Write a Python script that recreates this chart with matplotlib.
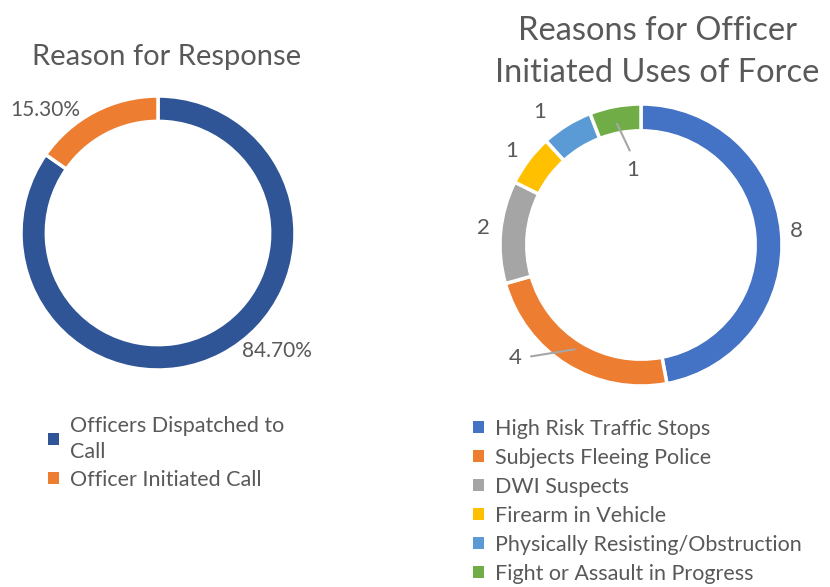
import textwrap
import matplotlib.pyplot as plt

# ─────────── data ───────────
response_labels = ['Officers Dispatched to Call', 'Officer Initiated Call']
response_pct = [84.70, 15.30]
response_colors = ['#2F5597', '#ED7D31']

force_labels = ['High Risk Traffic Stops', 'Subjects Fleeing Police', 'DWI Suspects',
                'Firearm in Vehicle', 'Physically Resisting/Obstruction',
                'Fight or Assault in Progress']
force_counts = [8, 4, 2, 1, 1, 1]
force_colors = ['#4472C4', '#ED7D31', '#A5A5A5', '#FFC000', '#5B9BD5', '#70AD47']

# ─────────── styling ───────────
W, H = 830, 587
TXT = '#595959'
plt.rcParams['font.family'] = ['Lato', 'DejaVu Sans']

# label offsets (in units of outer radius) relative to donut centre
resp_lbl_pos = [(0.87, -0.86), (-0.82, 0.90)]
force_lbl_pos = [(1.10, 0.10), (-0.89, -0.80), (-1.12, 0.12),
                 (-0.92, 0.67), (-0.72, 0.94), (-0.06, 0.53)]
# leader lines for some labels: (start on ring, end near label)
force_leaders = {1: ((-0.47, -0.74), (-0.78, -0.79)),
                 5: ((-0.17, 0.86), (-0.08, 0.67))}


def donut_axes(fig, cx, cy, r, half):
    """axes centred at pixel (cx, cy from top), outer radius r pixels"""
    ax = fig.add_axes([(cx - half) / W, (H - cy - half) / H, 2 * half / W, 2 * half / H])
    return ax, half / r


def fix_limits(ax, lim):
    ax.set_xlim(-lim, lim)
    ax.set_ylim(-lim, lim)
    ax.set_aspect('equal')
    ax.axis('off')


def style_legend(leg, linespacing):
    for h in leg.legend_handles:
        h.set_linewidth(0)
    for t in leg.get_texts():
        t.set_linespacing(linespacing)


fig = plt.figure(figsize=(W / 100, H / 100), dpi=100)

# ─────────── left donut ───────────
ax1, lim1 = donut_axes(fig, 158, 233, 137, 190)
w1, _ = ax1.pie(response_pct, colors=response_colors, startangle=90, counterclock=False,
                radius=1, wedgeprops=dict(width=0.185, edgecolor='white', linewidth=2.5))
fix_limits(ax1, lim1)
for v, (x, y) in zip(response_pct, resp_lbl_pos):
    ax1.text(x, y, f'{v:.2f}%', ha='center', va='center', fontsize=15, color=TXT)
fig.text(167 / W, 1 - 57 / H, 'Reason for Response', ha='center', va='center',
         fontsize=21, color=TXT)
leg1 = fig.legend(w1, [textwrap.fill(l, 22) for l in response_labels], loc='upper left',
                  bbox_to_anchor=(37 / W, 1 - 405 / H), frameon=False, fontsize=15.5,
                  labelcolor=TXT, handlelength=0.5, handleheight=0.5, handletextpad=0.55,
                  labelspacing=0.36, borderpad=0)
style_legend(leg1, 1.4)

# ─────────── right donut ───────────
ax2, lim2 = donut_axes(fig, 641, 245, 141, 190)
w2, _ = ax2.pie(force_counts, colors=force_colors, startangle=90, counterclock=False,
                radius=1, wedgeprops=dict(width=0.19, edgecolor='white', linewidth=2.5))
fix_limits(ax2, lim2)
for i, (v, (x, y)) in enumerate(zip(force_counts, force_lbl_pos)):
    ax2.text(x, y, str(v), ha='center', va='center', fontsize=16, color=TXT)
    if i in force_leaders:
        (x0, y0), (x1, y1) = force_leaders[i]
        ax2.annotate('', xy=(x1, y1), xytext=(x0, y0),
                     arrowprops=dict(arrowstyle='-', color='#A6A6A6', lw=1.5,
                                     shrinkA=0, shrinkB=0))
fig.text(657 / W, 1 - 51.5 / H, 'Reasons for Officer\nInitiated Uses of Force',
         ha='center', va='center', fontsize=23.5, color=TXT, linespacing=1.5)
leg2 = fig.legend(w2, force_labels, loc='upper left', bbox_to_anchor=(462 / W, 1 - 408 / H),
                  frameon=False, fontsize=15.5, labelcolor=TXT, handlelength=0.5,
                  handleheight=0.5, handletextpad=0.55, labelspacing=0.42, borderpad=0)
style_legend(leg2, 1.2)

fig.savefig('out.png', dpi=100)
